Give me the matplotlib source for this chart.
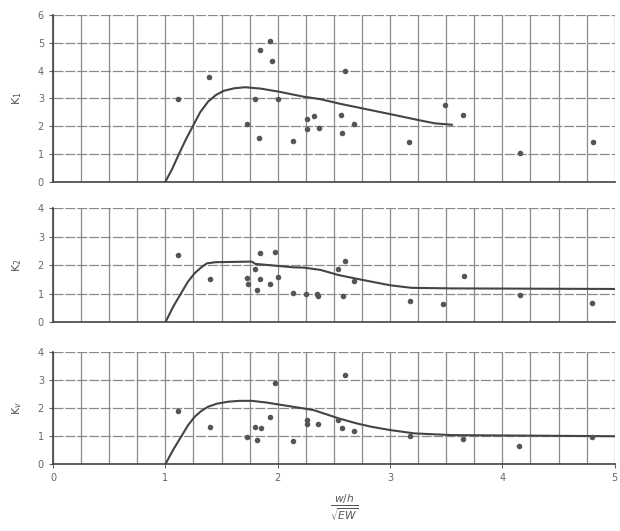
import matplotlib.pyplot as plt
import numpy as np

# panel 1 (K1): measured points and curve
k1_x = [1.11, 1.39, 1.84, 1.93, 1.95, 1.80, 2.00, 1.73, 1.83, 2.14, 2.26, 2.32, 2.26, 2.37,
        2.60, 2.56, 2.68, 2.57, 3.17, 3.49, 3.65, 4.16, 4.81]
k1_y = [2.97, 3.78, 4.74, 5.06, 4.34, 2.97, 2.97, 2.09, 1.56, 1.45, 2.26, 2.37, 1.88, 1.92,
        3.98, 2.40, 2.07, 1.76, 1.44, 2.76, 2.40, 1.04, 1.44]
k1_cx = [1.00, 1.06, 1.11, 1.18, 1.25, 1.31, 1.38, 1.45, 1.52, 1.61, 1.71, 1.85, 2.01, 2.23,
         2.38, 2.56, 2.80, 3.04, 3.25, 3.40, 3.55]
k1_cy = [0.00, 0.45, 0.90, 1.50, 2.04, 2.50, 2.88, 3.12, 3.27, 3.36, 3.40, 3.35, 3.24, 3.06,
         2.97, 2.80, 2.60, 2.40, 2.22, 2.10, 2.05]

# panel 2 (K2)
k2_x = [1.11, 1.40, 1.84, 1.98, 1.80, 1.73, 1.74, 1.84, 1.93, 2.00, 1.82, 2.14, 2.25, 2.35,
        2.60, 2.54, 2.68, 2.36, 2.58, 3.18, 3.47, 3.66, 4.16, 4.80]
k2_y = [2.36, 1.52, 2.42, 2.48, 1.87, 1.54, 1.33, 1.52, 1.33, 1.58, 1.13, 1.02, 0.98, 0.98,
        2.15, 1.87, 1.46, 0.92, 0.92, 0.75, 0.64, 1.64, 0.96, 0.67]
k2_cx = [1.00, 1.07, 1.14, 1.20, 1.26, 1.32, 1.37, 1.45, 1.77, 1.80, 2.14, 2.23, 2.38, 2.54,
         2.70, 2.83, 3.00, 3.19, 3.55, 5.00]
k2_cy = [0.00, 0.55, 1.02, 1.42, 1.72, 1.93, 2.07, 2.11, 2.13, 2.05, 1.93, 1.92, 1.84, 1.66,
         1.53, 1.43, 1.30, 1.21, 1.19, 1.17]

# panel 3 (Kv)
k3_x = [1.11, 1.40, 1.73, 1.82, 1.80, 1.85, 1.93, 1.98, 2.14, 2.26, 2.26, 2.36,
        2.60, 2.54, 2.57, 2.68, 3.18, 3.65, 4.15, 4.80]
k3_y = [1.90, 1.34, 0.96, 0.87, 1.34, 1.30, 1.69, 2.88, 0.84, 1.58, 1.45, 1.43,
        3.18, 1.58, 1.28, 1.19, 1.00, 0.90, 0.65, 0.96]
k3_cx = [1.00, 1.07, 1.14, 1.20, 1.26, 1.32, 1.38, 1.46, 1.56, 1.66, 1.77, 1.90, 2.04, 2.23,
         2.32, 2.54, 2.70, 2.83, 3.00, 3.22, 3.55, 5.00]
k3_cy = [0.00, 0.52, 0.98, 1.38, 1.69, 1.90, 2.05, 2.16, 2.23, 2.26, 2.26, 2.20, 2.11, 1.99,
         1.93, 1.64, 1.46, 1.34, 1.22, 1.10, 1.04, 1.00]

x_ticks = [0, 1, 2, 3, 4, 5]

fig = plt.figure(figsize=(6.2, 5.31), dpi=100)
panels = [
    ([0.0855, 0.6578, 0.906, 0.314], 6, k1_x, k1_y, k1_cx, k1_cy, 'K$_1$'),
    ([0.0855, 0.3930, 0.906, 0.2147], 4, k2_x, k2_y, k2_cx, k2_cy, 'K$_2$'),
    ([0.0855, 0.1256, 0.906, 0.2115], 4, k3_x, k3_y, k3_cx, k3_cy, 'K$_v$'),
]

grid_col = '#8a8a8a'
ink = '#444444'

for i, (pos, ymax, px, py, cx, cy, lab) in enumerate(panels):
    ax = fig.add_axes(pos)
    ax.set_xlim(0, 5)
    ax.set_ylim(0, ymax)
    # grid: every 0.25 in x, every 1 in y
    for gx in np.arange(0, 5.01, 0.25):
        ax.axvline(gx, color=grid_col, lw=0.9, zorder=0)
    for gy in range(0, ymax + 1):
        ax.axhline(gy, color=grid_col, lw=0.9, ls=(0, (8, 1.5)), zorder=0)
    ax.plot(cx, cy, color=ink, lw=1.5, zorder=2)
    ax.scatter(px, py, s=16, color='#555555', zorder=3, linewidths=0)
    ax.set_yticks(range(0, ymax + 1))
    ax.set_xticks(x_ticks)
    ax.tick_params(axis='both', labelsize=7, colors='#666666', length=3, width=0.8)
    if i < 2:
        ax.tick_params(axis='x', labelbottom=False, length=0)
    for s in ['top', 'right']:
        ax.spines[s].set_visible(False)
    ax.spines['left'].set_color(ink)
    ax.spines['bottom'].set_color(ink)
    ax.spines['left'].set_linewidth(1.2)
    ax.spines['bottom'].set_linewidth(1.2)
    ax.set_ylabel(lab, fontsize=8, color='#555555', labelpad=10)

fig.text(0.556, 0.045, r'$\frac{w/h}{\sqrt{EW}}$', fontsize=11, color='#555555',
         ha='center', va='center')

plt.savefig('out.png', dpi=100)
